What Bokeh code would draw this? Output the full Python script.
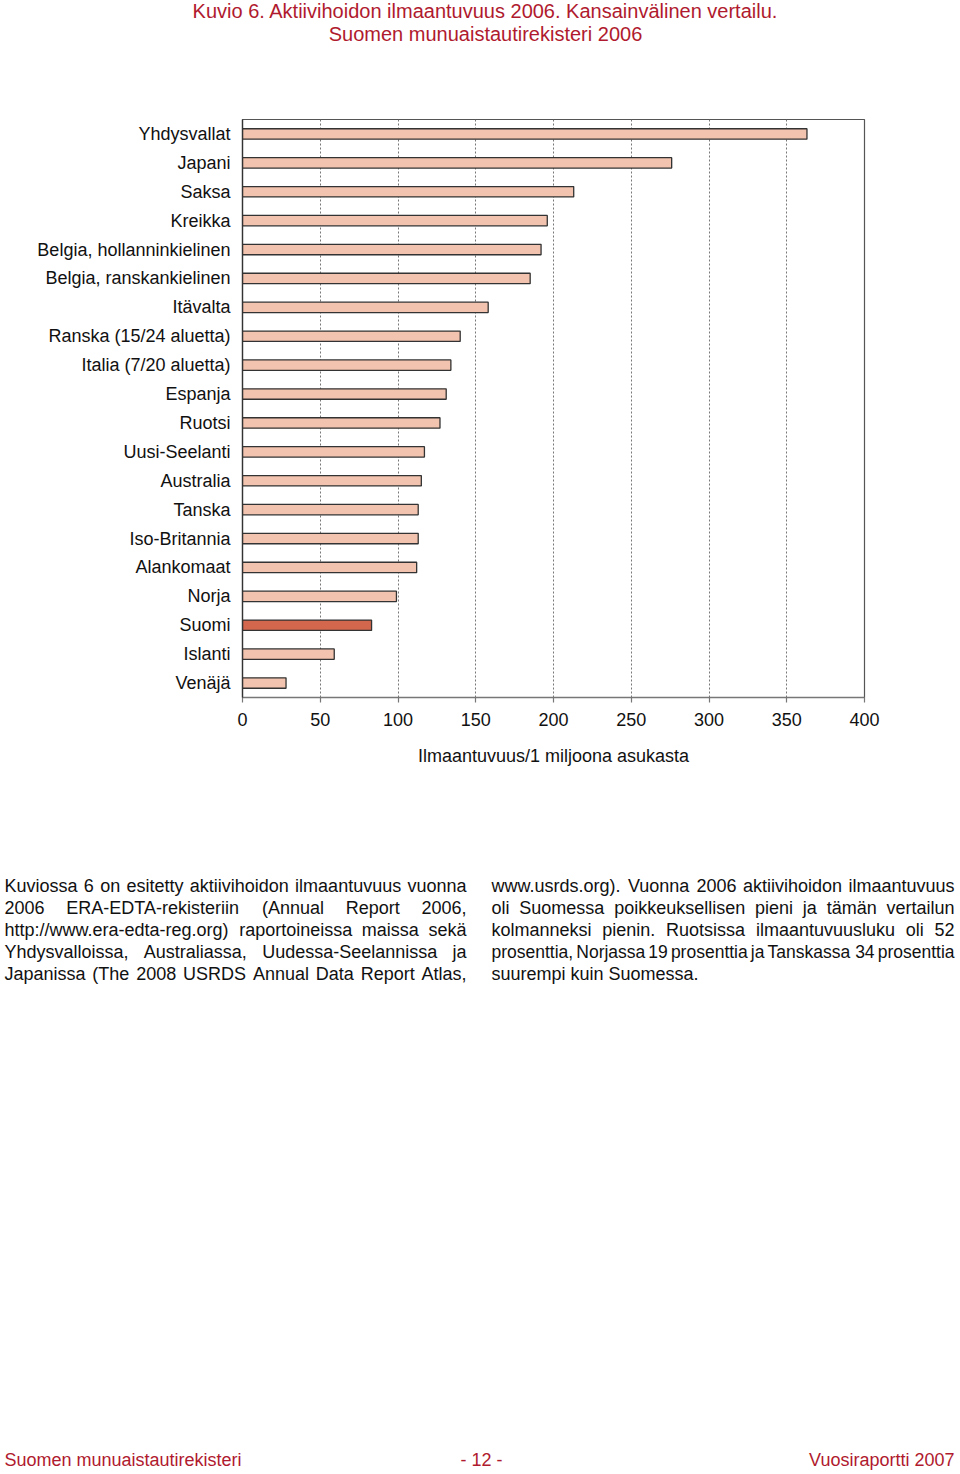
from bokeh.plotting import figure
from bokeh.models import Range1d, Label, FixedTicker, ColumnDataSource
from bokeh.layouts import column, row
from bokeh.embed import file_html
from bokeh.resources import INLINE

# ---- data ----
countries = ["Yhdysvallat", "Japani", "Saksa", "Kreikka", "Belgia, hollanninkielinen",
             "Belgia, ranskankielinen", "Itävalta", "Ranska (15/24 aluetta)",
             "Italia (7/20 aluetta)", "Espanja", "Ruotsi", "Uusi-Seelanti", "Australia",
             "Tanska", "Iso-Britannia", "Alankomaat", "Norja", "Suomi", "Islanti", "Venäjä"]
values = [363, 276, 213, 196, 192, 185, 158, 140, 134, 131, 127, 117, 115, 113, 113, 112,
          99, 83, 59, 28]
x_ticks = [0, 50, 100, 150, 200, 250, 300, 350, 400]
highlight = "Suomi"

title_lines = ["Kuvio 6. Aktiivihoidon ilmaantuvuus 2006. Kansainvälinen vertailu.",
               "Suomen munuaistautirekisteri 2006"]
x_label = "Ilmaantuvuus/1 miljoona asukasta"
left_col = ["Kuviossa 6 on esitetty aktiivihoidon ilmaantuvuus vuonna",
            "2006 ERA-EDTA-rekisteriin (Annual Report 2006,",
            "http://www.era-edta-reg.org) raportoineissa maissa sekä",
            "Yhdysvalloissa, Australiassa, Uudessa-Seelannissa ja",
            "Japanissa (The 2008 USRDS Annual Data Report Atlas,"]
right_col = ["www.usrds.org). Vuonna 2006 aktiivihoidon ilmaantuvuus",
             "oli Suomessa poikkeuksellisen pieni ja tämän vertailun",
             "kolmanneksi pienin. Ruotsissa ilmaantuvuusluku oli 52",
             "prosenttia, Norjassa 19 prosenttia ja Tanskassa 34 prosenttia",
             "suurempi kuin Suomessa."]
footer = ["Suomen munuaistautirekisteri", "- 12 -", "Vuosiraportti 2007"]

# ---- styles ----
BAR = "#f2c3ae"
BAR_HI = "#d2674d"
RED = "#b01a2e"
TXT = "#111111"
FONT = "Liberation Sans"
NARROW = "'Liberation Sans Narrow', 'Liberation Sans'"

W = 960
H_TOP, H_CHART, H_BOT = 100, 700, 674
ML, MR, MT = 242, 96, 19
FRAME_BOTTOM = 597  # local to chart figure
MB = H_CHART - FRAME_BOTTOM

# Liberation Sans (Arial-compatible) advance widths, per 1000 em, used to justify body text
_ADV = {" ": 278, "(": 333, ")": 333, ",": 278, "-": 333, ".": 278, "/": 278, ":": 278,
        "A": 667, "B": 667, "C": 722, "D": 722, "E": 667, "F": 611, "G": 778, "H": 722,
        "I": 278, "J": 500, "K": 667, "L": 556, "M": 833, "N": 722, "O": 778, "P": 667,
        "Q": 778, "R": 722, "S": 667, "T": 611, "U": 722, "V": 667, "W": 944, "X": 667,
        "Y": 667, "Z": 611, "a": 556, "b": 556, "c": 500, "d": 556, "e": 556, "f": 278,
        "g": 556, "h": 556, "i": 222, "j": 222, "k": 500, "l": 222, "m": 833, "n": 556,
        "o": 556, "p": 556, "q": 556, "r": 333, "s": 500, "t": 278, "u": 556, "v": 500,
        "w": 722, "x": 500, "y": 500, "z": 500, "ä": 556, "ö": 556}


def text_width(s, size):
    return sum(_ADV.get(ch, 556) for ch in s) * size / 1000.0


n = len(countries)
ypos = [n - 1 - i for i in range(n)]
colors = [BAR_HI if c == highlight else BAR for c in countries]
src = ColumnDataSource(dict(y=ypos, country=countries, value=values, color=colors))


def text_fig(h):
    f = figure(width=W, height=h, output_backend="svg", toolbar_location=None,
               x_range=Range1d(0, W), y_range=Range1d(h, 0),
               x_axis_location=None, y_axis_location=None,
               min_border=0, min_border_left=0, min_border_right=0,
               min_border_top=0, min_border_bottom=0)
    f.outline_line_color = None
    f.xgrid.visible = False
    f.ygrid.visible = False
    f.background_fill_color = "white"
    f.border_fill_color = "white"
    return f


def lab(f, x, y, text, size=18, font=FONT, color=TXT, align="left"):
    f.add_layout(Label(x=x, y=y, text=text, text_font=font, text_font_size=f"{size}px",
                       text_color=color, text_align=align, text_baseline="middle"))


def justified(f, x0, x1, y, line, size=18.0, min_gap=3.0):
    words = line.split(" ")
    while True:
        ws = [text_width(w, size) for w in words]
        gap = (x1 - x0 - sum(ws)) / (len(words) - 1)
        if gap >= min_gap:
            break
        size -= 0.25
    x = x0
    for w, wd in zip(words, ws):
        lab(f, x, y, w, size=size)
        x += wd + gap


# ---- title ----
top = text_fig(H_TOP)
lab(top, 485, 10, title_lines[0], size=20, font=NARROW, color=RED, align="center")
lab(top, 485, 33, title_lines[1], size=20, font=NARROW, color=RED, align="center")

# ---- chart ----
p = figure(width=W, height=H_CHART, output_backend="svg", toolbar_location=None,
           x_range=Range1d(0, 400), y_range=Range1d(-0.5, n - 0.5),
           min_border_left=ML, min_border_right=MR, min_border_top=MT, min_border_bottom=MB)
p.background_fill_color = "white"
p.border_fill_color = "white"
p.outline_line_color = "#555555"
p.outline_line_width = 1.2

p.hbar(y="y", right="value", left=0, height=0.36, fill_color="color",
       line_color="#333333", line_width=1.3, source=src)

p.xaxis.ticker = FixedTicker(ticks=x_ticks)
p.xaxis.axis_line_color = "#777777"
p.xaxis.axis_line_width = 1.5
p.xaxis.major_tick_line_color = "#777777"
p.xaxis.major_tick_line_width = 1.2
p.xaxis.major_tick_out = 5
p.xaxis.major_tick_in = 0
p.xaxis.minor_tick_line_color = None
p.xaxis.major_label_text_font = FONT
p.xaxis.major_label_text_font_size = "18px"
p.xaxis.major_label_text_color = TXT
p.xaxis.major_label_standoff = 10
p.xaxis.axis_label = x_label
p.xaxis.axis_label_text_font = FONT
p.xaxis.axis_label_text_font_size = "18px"
p.xaxis.axis_label_text_font_style = "normal"
p.xaxis.axis_label_text_color = TXT
p.xaxis.axis_label_standoff = 17

p.yaxis.ticker = FixedTicker(ticks=ypos)
p.yaxis.major_label_overrides = {y: c for y, c in zip(ypos, countries)}
p.yaxis.axis_line_color = "#333333"
p.yaxis.axis_line_width = 1.3
p.yaxis.major_tick_line_color = None
p.yaxis.minor_tick_line_color = None
p.yaxis.major_label_text_font = FONT
p.yaxis.major_label_text_font_size = "18px"
p.yaxis.major_label_text_color = TXT
p.yaxis.major_label_standoff = 6

p.ygrid.grid_line_color = None
p.xgrid.ticker = FixedTicker(ticks=x_ticks[1:-1])
p.xgrid.grid_line_color = "#777777"
p.xgrid.grid_line_dash = "2 2"
p.xgrid.grid_line_width = 1

# ---- body text + footer ----
bot = text_fig(H_BOT)
y0 = H_TOP + H_CHART
for i, t in enumerate(left_col):
    justified(bot, 4, 466, 885 - y0 + 22 * i, t)
for i, t in enumerate(right_col):
    if i < len(right_col) - 1:
        justified(bot, 491, 954, 885 - y0 + 22 * i, t)
    else:
        lab(bot, 491, 885 - y0 + 22 * i, t)

lab(bot, 4, 1459 - y0, footer[0], size=18, font=NARROW, color=RED)
lab(bot, 481, 1459 - y0, footer[1], size=18, font=NARROW, color=RED, align="center")
lab(bot, 954, 1459 - y0, footer[2], size=18, font=NARROW, color=RED, align="right")

layout = column(row(top), p, row(bot), spacing=0)
open("out.html", "w").write(file_html(layout, INLINE))
